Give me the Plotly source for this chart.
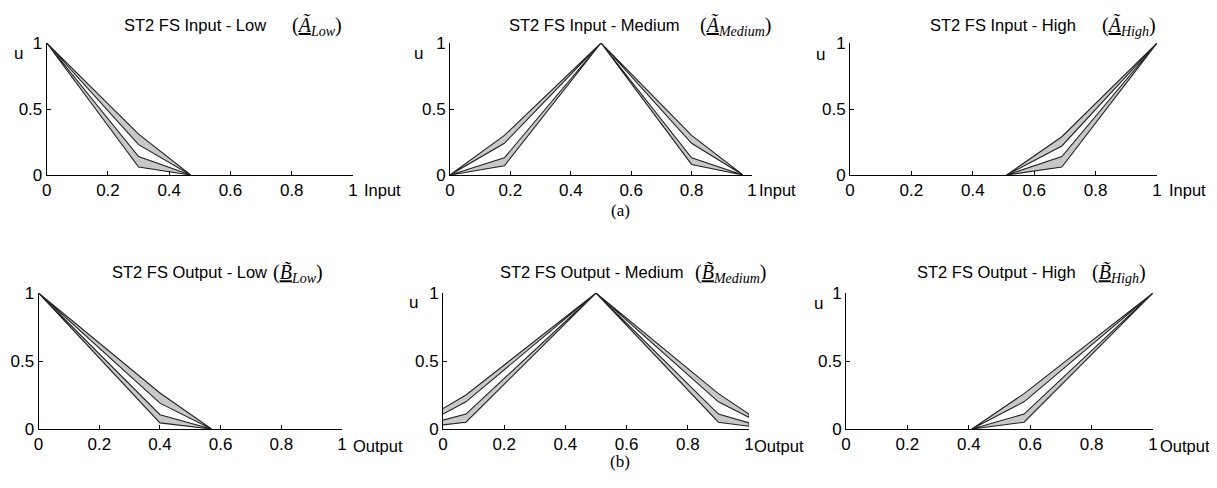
import plotly.graph_objects as go

PAGE_OFFSET = 8  # default body margin of the page holding the figure
W, H = 1217 - PAGE_OFFSET, 488 - PAGE_OFFSET

# ---------------- data (membership grades) ----------------
# Input - Low
IN_LOW_X = [0, 0.30, 0.47]
IN_LOW_UO = [1, 0.31, 0]
IN_LOW_UI = [1, 0.23, 0]
IN_LOW_LI = [1, 0.14, 0]
IN_LOW_LO = [1, 0.06, 0]
# Input - Medium
IN_MED_X = [0, 0.18, 0.5, 0.80, 0.97]
IN_MED_UO = [0, 0.30, 1, 0.30, 0]
IN_MED_UI = [0, 0.24, 1, 0.24, 0]
IN_MED_LI = [0, 0.13, 1, 0.13, 0]
IN_MED_LO = [0, 0.07, 1, 0.08, 0]
# Input - High
IN_HIGH_X = [0.51, 0.69, 1]
IN_HIGH_UO = [0, 0.29, 1]
IN_HIGH_UI = [0, 0.22, 1]
IN_HIGH_LI = [0, 0.14, 1]
IN_HIGH_LO = [0, 0.06, 1]
# Output - Low
OUT_LOW_X = [0, 0.40, 0.57]
OUT_LOW_UO = [1, 0.265, 0]
OUT_LOW_UI = [1, 0.19, 0]
OUT_LOW_LI = [1, 0.105, 0]
OUT_LOW_LO = [1, 0.045, 0]
# Output - Medium
OUT_MED_X = [0, 0.075, 0.5, 0.90, 1]
OUT_MED_UO = [0.15, 0.25, 1, 0.26, 0.11]
OUT_MED_UI = [0.11, 0.20, 1, 0.20, 0.085]
OUT_MED_LI = [0.065, 0.11, 1, 0.11, 0.045]
OUT_MED_LO = [0.03, 0.05, 1, 0.05, 0.02]
# Output - High
OUT_HIGH_X = [0.41, 0.58, 1]
OUT_HIGH_UO = [0, 0.26, 1]
OUT_HIGH_UI = [0, 0.20, 1]
OUT_HIGH_LI = [0, 0.11, 1]
OUT_HIGH_LO = [0, 0.05, 1]

X_TICKS = [0, 0.2, 0.4, 0.6, 0.8, 1]
X_TICK_TEXT = ["0", "0.2", "0.4", "0.6", "0.8", "1"]
Y_TICKS = [0, 0.5, 1]
Y_TICK_TEXT = ["0", "0.5", "1"]

TITLES = ["ST2 FS Input - Low", "ST2 FS Input - Medium", "ST2 FS Input - High",
          "ST2 FS Output - Low", "ST2 FS Output - Medium", "ST2 FS Output - High"]
SYMBOLS = [("A", "Low"), ("A", "Medium"), ("A", "High"),
           ("B", "Low"), ("B", "Medium"), ("B", "High")]
X_LABELS = ["Input", "Input", "Input", "Output", "Output", "Output"]
CAPTIONS = ["(a)", "(b)"]

PANELS = [
    (IN_LOW_X, IN_LOW_UO, IN_LOW_UI, IN_LOW_LI, IN_LOW_LO),
    (IN_MED_X, IN_MED_UO, IN_MED_UI, IN_MED_LI, IN_MED_LO),
    (IN_HIGH_X, IN_HIGH_UO, IN_HIGH_UI, IN_HIGH_LI, IN_HIGH_LO),
    (OUT_LOW_X, OUT_LOW_UO, OUT_LOW_UI, OUT_LOW_LI, OUT_LOW_LO),
    (OUT_MED_X, OUT_MED_UO, OUT_MED_UI, OUT_MED_LI, OUT_MED_LO),
    (OUT_HIGH_X, OUT_HIGH_UO, OUT_HIGH_UI, OUT_HIGH_LI, OUT_HIGH_LO),
]

# ---------------- layout (page pixel boxes: left, right, top(=1), bottom(=0)) ----------------
BOXES = [
    (46.7, 353, 43, 175),
    (450, 752, 43, 175),
    (850, 1157, 43, 175),
    (38.6, 342, 293, 429),
    (443, 749, 293, 429),
    (846, 1153, 293, 429),
]
TITLE_POS = [(122, 290, 25), (507, 698, 25), (928, 1100, 25),
             (110, 271, 272), (498, 693, 272), (915, 1090, 272)]
U_POS = [(18, 53), (418, 53), (820, 55), None, (413, 302), (818, 303)]
XLAB_POS = [(362, 190), (757, 190), (1167, 190), (351, 446), (752, 446), (1158, 446)]
CAPTION_POS = [(620, 210), (620, 461)]

FILL = "#c8c8c8"
LINE = "#222222"
SANS = "Liberation Sans"
SERIF = "Liberation Serif"


def px(x):
    return (x - PAGE_OFFSET) / W


def py(y):
    return 1 - (y - PAGE_OFFSET) / H


fig = go.Figure()
layout = dict(width=W, height=H, margin=dict(l=0, r=0, t=0, b=0, autoexpand=False),
              paper_bgcolor="white", plot_bgcolor="white", showlegend=False)
annotations = []

for i, (data, box) in enumerate(zip(PANELS, BOXES)):
    xs, uo, ui, li, lo = data
    n = i + 1
    xa = "x" if n == 1 else f"x{n}"
    ya = "y" if n == 1 else f"y{n}"
    # shaded bands (upper and lower parts of the footprint)
    for a, b in ((uo, ui), (li, lo)):
        fig.add_trace(go.Scatter(x=list(xs) + list(xs)[::-1], y=list(a) + list(b)[::-1],
                                 mode="lines", fill="toself", fillcolor=FILL,
                                 line=dict(color=LINE, width=1.1),
                                 xaxis=xa, yaxis=ya, hoverinfo="skip"))
    l, r, t, btm = box
    xkey = "xaxis" if n == 1 else f"xaxis{n}"
    ykey = "yaxis" if n == 1 else f"yaxis{n}"
    layout[xkey] = dict(domain=[px(l), px(r)], anchor=ya, range=[0, 1], automargin=False,
                        tickvals=X_TICKS, ticktext=X_TICK_TEXT, ticks="inside",
                        ticklen=4, tickcolor="black", showline=True, linecolor="black",
                        linewidth=1, showgrid=False, zeroline=False,
                        tickfont=dict(family=SANS, size=17, color="black"))
    layout[ykey] = dict(domain=[py(btm), py(t)], anchor=xa, range=[0, 1], automargin=False,
                        tickvals=Y_TICKS, ticktext=Y_TICK_TEXT, ticks="inside",
                        ticklen=4, tickcolor="black", showline=True, linecolor="black",
                        linewidth=1, showgrid=False, zeroline=False,
                        tickfont=dict(family=SANS, size=17, color="black"))
    tx, mx, ty = TITLE_POS[i]
    annotations.append(dict(text=TITLES[i], x=px(tx), y=py(ty), xref="paper", yref="paper",
                            xanchor="left", yanchor="middle", showarrow=False,
                            font=dict(family=SANS, size=16.5, color="black")))
    letter, sub = SYMBOLS[i]
    annotations.append(dict(text=f"(<u><i>{letter}\u0303</i></u><sub><i>{sub}</i></sub>)",
                            x=px(mx), y=py(ty + 1), xref="paper", yref="paper",
                            xanchor="left", yanchor="middle", showarrow=False,
                            font=dict(family=SERIF, size=20, color="black")))
    if U_POS[i] is not None:
        ux, uy = U_POS[i]
        annotations.append(dict(text="u", x=px(ux), y=py(uy), xref="paper", yref="paper",
                                xanchor="center", yanchor="middle", showarrow=False,
                                font=dict(family=SANS, size=17, color="black")))
    lx, ly = XLAB_POS[i]
    annotations.append(dict(text=X_LABELS[i], x=px(lx), y=py(ly), xref="paper", yref="paper",
                            xanchor="left", yanchor="middle", showarrow=False,
                            font=dict(family=SANS, size=16.5, color="black")))

for cap, (cx, cy) in zip(CAPTIONS, CAPTION_POS):
    annotations.append(dict(text=cap, x=px(cx), y=py(cy), xref="paper", yref="paper",
                            xanchor="center", yanchor="middle", showarrow=False,
                            font=dict(family=SERIF, size=17, color="black")))

layout["annotations"] = annotations
fig.update_layout(**layout)
fig.write_html("out.html")
